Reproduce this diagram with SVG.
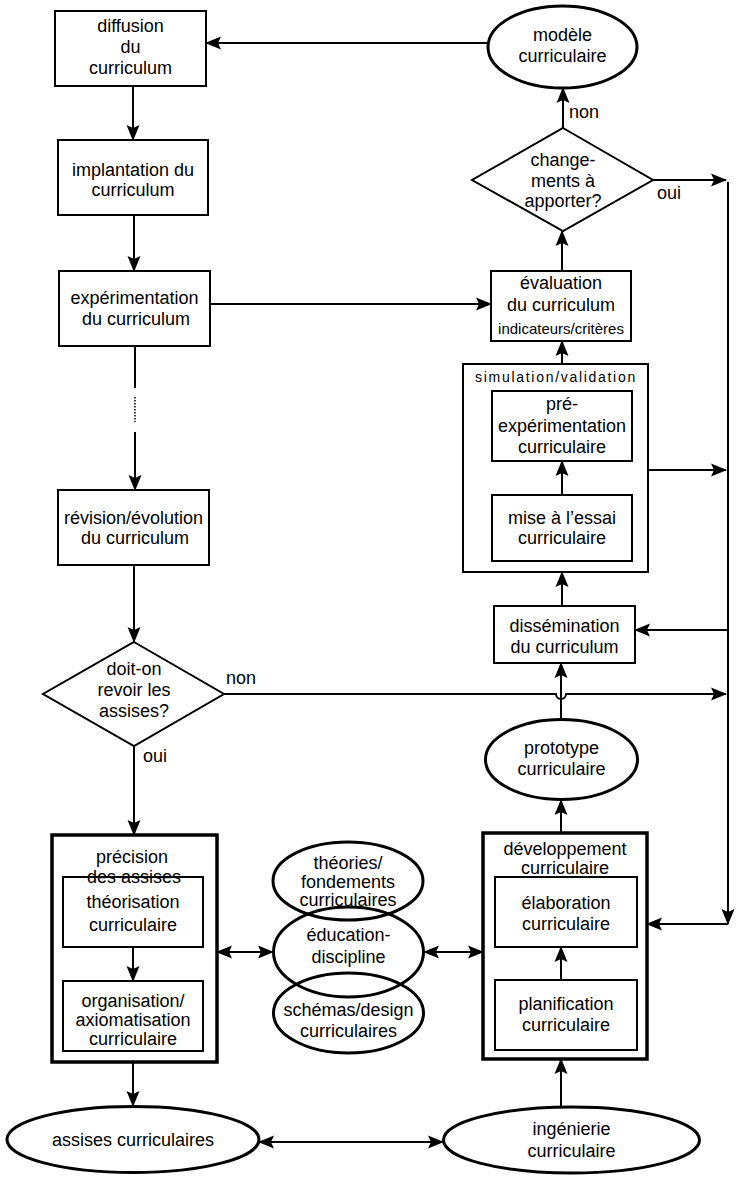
<svg xmlns="http://www.w3.org/2000/svg" width="738" height="1181" viewBox="0 0 738 1181">
<style>
text{font-family:"Liberation Sans",Arial,Helvetica,sans-serif;font-size:18px;fill:#000;text-anchor:middle}
.sm{font-size:15px}
.sp{font-size:14px;letter-spacing:1.7px}
.lbl{text-anchor:start}
.box{fill:none;stroke:#000;stroke-width:2}
.thick{fill:none;stroke:#000;stroke-width:3.5}
.ell{fill:none;stroke:#000;stroke-width:3}
.dia{fill:none;stroke:#000;stroke-width:2}
.c{fill:none;stroke:#000;stroke-width:2}
.a{marker-end:url(#ah)}
.d{marker-start:url(#ah);marker-end:url(#ah)}
</style>
<defs>
<marker id="ah" viewBox="0 -7 16 14" refX="15" refY="0" markerWidth="16" markerHeight="14" markerUnits="userSpaceOnUse" orient="auto-start-reverse">
<path d="M0,-6.5 L16,0 L0,6.5 L3,0 z" fill="#000"/>
</marker>
</defs>
<rect width="738" height="1181" fill="#fff"/>

<g id="diffusion">
<rect class="box" x="55" y="11" width="151" height="75"/>
<text x="130.5" y="32">diffusion</text>
<text x="130.5" y="53">du</text>
<text x="130.5" y="74">curriculum</text>
</g>
<g id="implantation">
<rect class="box" x="58" y="140" width="150" height="75"/>
<text x="133" y="176">implantation du</text>
<text x="133" y="196">curriculum</text>
</g>
<g id="experimentation">
<rect class="box" x="59" y="271" width="151" height="75"/>
<text x="134.5" y="304">expérimentation</text>
<text x="136" y="325">du curriculum</text>
</g>
<g id="revision">
<rect class="box" x="58" y="490" width="151" height="75"/>
<text x="133.5" y="524">révision/évolution</text>
<text x="135" y="544">du curriculum</text>
</g>
<g id="doit-on">
<polygon class="dia" points="134,642 224,694 134,746 43,694"/>
<text x="134" y="675">doit-on</text>
<text x="134" y="696">revoir les</text>
<text x="134" y="717">assises?</text>
</g>
<g id="precision">
<rect class="thick" x="52" y="835" width="165" height="227"/>
<text x="132" y="863">précision</text>
<text x="134" y="883">des assises</text>
</g>
<g id="theorisation">
<rect class="box" x="63" y="877" width="140" height="70"/>
<text x="133" y="908">théorisation</text>
<text x="133" y="931">curriculaire</text>
</g>
<g id="organisation">
<rect class="box" x="63" y="981" width="140" height="70"/>
<text x="133" y="1007">organisation/</text>
<text x="133" y="1026">axiomatisation</text>
<text x="133" y="1045">curriculaire</text>
</g>
<g id="assises">
<ellipse class="ell" cx="133" cy="1139.5" rx="126" ry="33"/>
<text x="133" y="1146">assises curriculaires</text>
</g>
<g id="ingenierie">
<ellipse class="ell" cx="571.5" cy="1140" rx="128" ry="33"/>
<text x="571.5" y="1135">ingénierie</text>
<text x="571.5" y="1157">curriculaire</text>
</g>
<g id="developpement">
<rect class="thick" x="483" y="833" width="164" height="226"/>
<text x="565" y="855">développement</text>
<text x="565" y="874">curriculaire</text>
</g>
<g id="elaboration">
<rect class="box" x="495" y="877" width="142" height="70"/>
<text x="566" y="909">élaboration</text>
<text x="566" y="930">curriculaire</text>
</g>
<g id="planification">
<rect class="box" x="495" y="980" width="142" height="70"/>
<text x="566" y="1010">planification</text>
<text x="566" y="1031">curriculaire</text>
</g>
<g id="theories">
<ellipse class="ell" cx="348" cy="881" rx="75" ry="39"/>
<text x="348" y="869">théories/</text>
<text x="348" y="888">fondements</text>
<text x="348" y="906">curriculaires</text>
</g>
<g id="education">
<ellipse class="ell" cx="348.5" cy="952" rx="75" ry="45"/>
<text x="348.5" y="941">éducation-</text>
<text x="348.5" y="963">discipline</text>
</g>
<g id="schemas">
<ellipse class="ell" cx="348.5" cy="1013" rx="75" ry="40"/>
<text x="348.5" y="1016">schémas/design</text>
<text x="348.5" y="1037">curriculaires</text>
</g>
<g id="prototype">
<ellipse class="ell" cx="561.5" cy="759.5" rx="76" ry="40"/>
<text x="561.5" y="754">prototype</text>
<text x="561.5" y="775">curriculaire</text>
</g>
<g id="dissemination">
<rect class="box" x="494" y="606" width="141" height="57"/>
<text x="564.5" y="632">dissémination</text>
<text x="564.5" y="653">du curriculum</text>
</g>
<g id="simulation">
<rect class="box" x="463" y="364" width="185" height="208" stroke-width="2.5"/>
<text class="sp" x="556" y="382">simulation/validation</text>
</g>
<g id="pre-experimentation">
<rect class="box" x="492" y="391" width="140" height="70"/>
<text x="562" y="410">pré-</text>
<text x="562" y="432">expérimentation</text>
<text x="562" y="453">curriculaire</text>
</g>
<g id="mise-essai">
<rect class="box" x="492" y="495" width="140" height="66"/>
<text x="562" y="524">mise à l’essai</text>
<text x="562" y="544">curriculaire</text>
</g>
<g id="evaluation">
<rect class="box" x="491" y="271" width="140" height="70"/>
<text x="561" y="289">évaluation</text>
<text x="561" y="311">du curriculum</text>
<text class="sm" x="561" y="334">indicateurs/critères</text>
</g>
<g id="changements">
<polygon class="dia" points="563,128 653,180 563,231 472,180"/>
<text x="563" y="166">change-</text>
<text x="563" y="187">ments à</text>
<text x="563" y="207">apporter?</text>
</g>
<g id="modele">
<ellipse class="ell" cx="562.5" cy="47" rx="74.5" ry="41"/>
<text x="562.5" y="41">modèle</text>
<text x="562.5" y="62">curriculaire</text>
</g>

<g id="connectors">
<line class="c a" x1="488" y1="43" x2="206" y2="43"/>
<line class="c a" x1="133" y1="86" x2="133" y2="140"/>
<line class="c a" x1="134" y1="215" x2="134" y2="271"/>
<line class="c a" x1="210" y1="304" x2="491" y2="304"/>
<line class="c" x1="135" y1="346" x2="135" y2="388"/>
<line fill="none" stroke="#000" stroke-width="1.5" stroke-dasharray="1.5,1.5" x1="135" y1="397" x2="135" y2="422"/>
<line class="c a" x1="135" y1="432" x2="135" y2="490"/>
<line class="c a" x1="134" y1="565" x2="134" y2="642"/>
<path class="c a" d="M224,694 H556 A5,5 0 0 0 566,694 H726"/>
<line class="c a" x1="134" y1="746" x2="134" y2="835"/>
<line class="c a" x1="133" y1="947" x2="133" y2="981"/>
<line class="c a" x1="133" y1="1062" x2="133" y2="1106"/>
<line class="c d" x1="217" y1="952" x2="273" y2="952"/>
<line class="c d" x1="424" y1="952" x2="483" y2="952"/>
<line class="c d" x1="259" y1="1142" x2="443" y2="1142"/>
<line class="c a" x1="561" y1="1107" x2="561" y2="1059"/>
<line class="c a" x1="561" y1="980" x2="561" y2="947"/>
<line class="c a" x1="561" y1="833" x2="561" y2="800"/>
<line class="c a" x1="561" y1="719" x2="561" y2="663"/>
<line class="c a" x1="562" y1="606" x2="562" y2="572"/>
<line class="c a" x1="562" y1="495" x2="562" y2="461"/>
<line class="c a" x1="562" y1="364" x2="562" y2="341"/>
<line class="c a" x1="562" y1="271" x2="562" y2="231"/>
<line class="c a" x1="563" y1="128" x2="563" y2="88"/>
<line class="c a" x1="653" y1="180" x2="726" y2="180"/>
<line class="c a" x1="728" y1="182" x2="728" y2="924"/>
<line class="c a" x1="728" y1="630" x2="635" y2="630"/>
<line class="c a" x1="728" y1="924" x2="647" y2="924"/>
<line class="c a" x1="648" y1="470" x2="726" y2="470"/>
<text class="lbl" x="569" y="118">non</text>
<text class="lbl" x="657" y="199">oui</text>
<text class="lbl" x="226" y="684">non</text>
<text class="lbl" x="143" y="762">oui</text>
</g>
</svg>
